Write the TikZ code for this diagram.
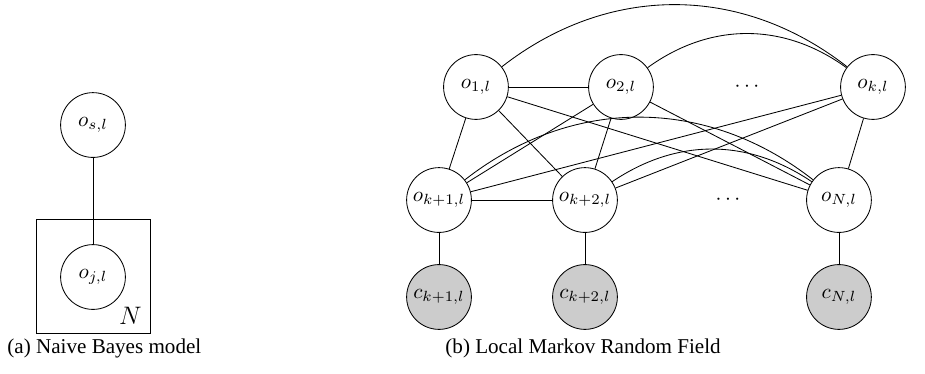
\documentclass[tikz,border=0pt]{standalone}
\usepackage{fontspec}
\setmainfont{Liberation Serif}
\usepackage{tikz}
\usetikzlibrary{positioning}

\tikzset{
    var/.style={draw, circle, minimum size=1.08cm, inner sep=0pt},
    obs/.style={var, fill=black!20}
}

\begin{document}
\begin{tikzpicture}
    \useasboundingbox (0, 0) rectangle (15.417, 6.217);

    % (a) naive bayes
    \path (1.55, 4.133) node [var] (os) {$o_{s,l}$};
    \path (1.55, 1.6) node [var] (oj) {$o_{j,l}$};
    \path (1.55, 1.617) node [draw, minimum size=1.9cm] (plate) {};
    \path (plate.south east) node [anchor=south east, inner sep=4pt] (nn) {\large $N$};
    \draw (os) -- (oj);
    \path (0, 0.417) node [anchor=west] (capa) {(a) Naive Bayes model};

    % (b) local mrf
    \path (7.933, 4.767) node [var] (o1) {$o_{1,l}$};
    \path (10.35, 4.767) node [var] (o2) {$o_{2,l}$};
    \path (12.45, 4.767) node (dots1) {$\cdots$};
    \path (14.55, 4.767) node [var] (ok) {$o_{k,l}$};
    \path (7.317, 2.883) node [var] (ok1) {$o_{k+1,l}$};
    \path (9.75, 2.883) node [var] (ok2) {$o_{k+2,l}$};
    \path (12.133, 2.883) node (dots2) {$\cdots$};
    \path (13.983, 2.883) node [var] (oN) {$o_{N,l}$};
    \path (7.317, 1.267) node [obs] (c1) {$c_{k+1,l}$};
    \path (9.75, 1.267) node [obs] (c2) {$c_{k+2,l}$};
    \path (13.983, 1.267) node [obs] (cN) {$c_{N,l}$};

    \draw (o1) -- (o2);
    \draw (o1) -- (ok1);
    \draw (o1) -- (ok2);
    \draw (o1) -- (oN);
    \draw (o2) -- (ok1);
    \draw (o2) -- (ok2);
    \draw (o2) -- (oN);
    \draw (ok) -- (ok1);
    \draw (ok) -- (ok2);
    \draw (ok) -- (oN);
    \draw (ok1) -- (ok2);
    \draw (o1) to [bend left=38] (ok);
    \draw (o2) to [bend left=36] (ok);
    \draw (ok1) to [bend left=38] (oN);
    \draw (ok2) to [bend left=34] (oN);
    \draw (ok1) -- (c1);
    \draw (ok2) -- (c2);
    \draw (oN) -- (cN);
    \path (7.3, 0.417) node [anchor=west] (capb) {(b) Local Markov Random Field};
\end{tikzpicture}
\end{document}
